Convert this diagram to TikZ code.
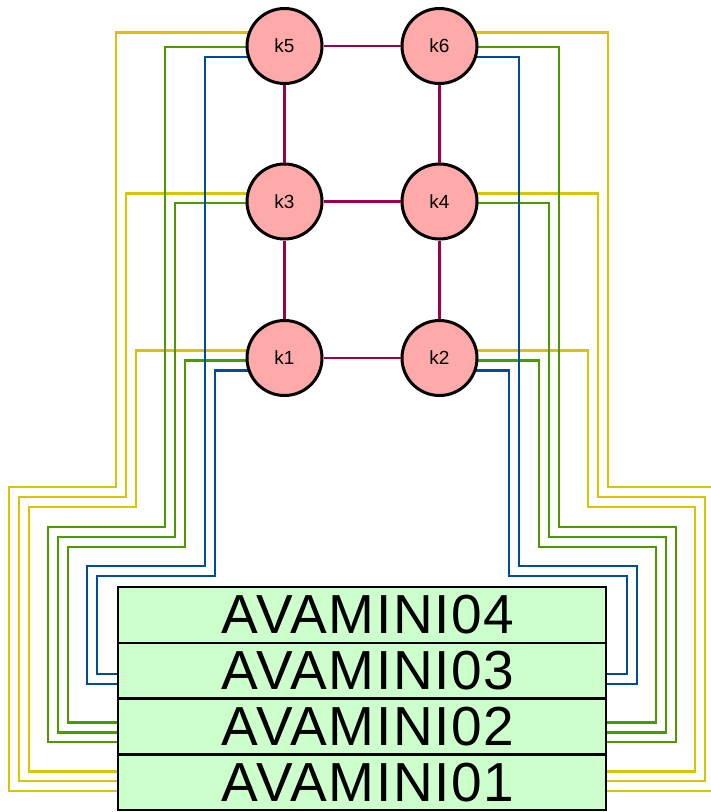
\documentclass[tikz,border=0pt]{standalone}
\usepackage{fontspec}
\setmainfont{Liberation Sans}
\newfontfamily\avfont[LetterSpace=3]{Liberation Sans}
\usepackage{xcolor}
\usepackage{tikz}
\usetikzlibrary{positioning, calc, backgrounds}

\definecolor{wireyellow}{RGB}{217,196,0}
\definecolor{wiregreen}{RGB}{77,153,0}
\definecolor{wireblue}{RGB}{0,76,153}
\definecolor{linkpurple}{RGB}{153,0,77}
\definecolor{kfill}{RGB}{255,170,170}
\definecolor{avfill}{RGB}{204,255,204}

\begin{document}
\begin{tikzpicture}[
    x=1pt, y=-1pt,
    switch/.style={circle, draw=black, fill=kfill, line width=3pt, minimum size=75pt, inner sep=0pt, font=\fontsize{19}{19}\selectfont},
    avrow/.style={rectangle, draw=black, fill=avfill, line width=2.5pt, minimum width=488pt, minimum height=55.75pt, inner sep=0pt, outer sep=0pt, font=\avfont\fontsize{55}{55}\selectfont},
    link/.style={line width=2.6pt, draw=linkpurple},
    ywire/.style={line width=2.8pt, draw=wireyellow},
    gwire/.style={line width=2.8pt, draw=wiregreen},
    bwire/.style={line width=2.8pt, draw=wireblue}
  ]
  \useasboundingbox (0,0) rectangle (711,812);

  % Switches
  \node[switch] (k5) at (284.5, 46) {k5};
  \node[switch] (k6) at (439.5, 46) {k6};
  \node[switch] (k3) at (284.5, 201.5) {k3};
  \node[switch] (k4) at (439.5, 201.5) {k4};
  \node[switch] (k1) at (284.5, 358) {k1};
  \node[switch] (k2) at (439.5, 358) {k2};

  % AVAMINI stack
  \node[avrow] (av04) at (362, 615) {\hspace*{12pt}AVAMINI04};
  \node[avrow, below=0pt of av04] (av03) {\hspace*{12pt}AVAMINI03};
  \node[avrow, below=0pt of av03] (av02) {\hspace*{12pt}AVAMINI02};
  \node[avrow, below=0pt of av02] (av01) {\hspace*{12pt}AVAMINI01};

  % Links between switches
  \draw[link] (k5) -- (k6);
  \draw[link] (k3) -- (k4);
  \draw[link] (k1) -- (k2);
  \draw[link] (k5) -- (k3);
  \draw[link] (k3) -- (k1);
  \draw[link] (k6) -- (k4);
  \draw[link] (k4) -- (k2);

  \begin{scope}[on background layer]
    % Left side
    \draw[ywire] ($(k5)+(0,-13.5)$) -| (116,487) -| (9,791) -- (av01.west |- 0,791);
    \draw[ywire] ($(k3)+(0,-8)$) -| (126,497) -| (19,781) -- (av01.west |- 0,781);
    \draw[ywire] ($(k1)+(0,-7.3)$) -| (136,507) -| (29,771.5) -- (av01.west |- 0,771.5);
    \draw[gwire] ($(k5)+(0,1)$) -| (165,527) -| (48,742) -- (av02.west |- 0,742);
    \draw[gwire] ($(k3)+(0,1.5)$) -| (175,537) -| (58,732.5) -- (av02.west |- 0,732.5);
    \draw[gwire] ($(k1)+(0,2.7)$) -| (185,547) -| (68,722.5) -- (av02.west |- 0,722.5);
    \draw[bwire] ($(k5)+(0,11)$) -| (205,566) -| (87,684) -- (av03.west |- 0,684);
    \draw[bwire] ($(k1)+(0,12.3)$) -| (215,576) -| (97,674) -- (av03.west |- 0,674);

    % Right side
    \draw[ywire] ($(k6)+(0,-13.5)$) -| (608,487) -| (715,791) -- (av01.east |- 0,791);
    \draw[ywire] ($(k4)+(0,-8)$) -| (598,497) -| (705,781) -- (av01.east |- 0,781);
    \draw[ywire] ($(k2)+(0,-7.3)$) -| (588,507) -| (695,771.5) -- (av01.east |- 0,771.5);
    \draw[gwire] ($(k6)+(0,1)$) -| (559,527) -| (676,742) -- (av02.east |- 0,742);
    \draw[gwire] ($(k4)+(0,1.5)$) -| (549,537) -| (666,732.5) -- (av02.east |- 0,732.5);
    \draw[gwire] ($(k2)+(0,2.7)$) -| (539,547) -| (656,722.5) -- (av02.east |- 0,722.5);
    \draw[bwire] ($(k6)+(0,11)$) -| (519,566) -| (637,684) -- (av03.east |- 0,684);
    \draw[bwire] ($(k2)+(0,12.3)$) -| (509,576) -| (627,674) -- (av03.east |- 0,674);
  \end{scope}
\end{tikzpicture}
\end{document}
